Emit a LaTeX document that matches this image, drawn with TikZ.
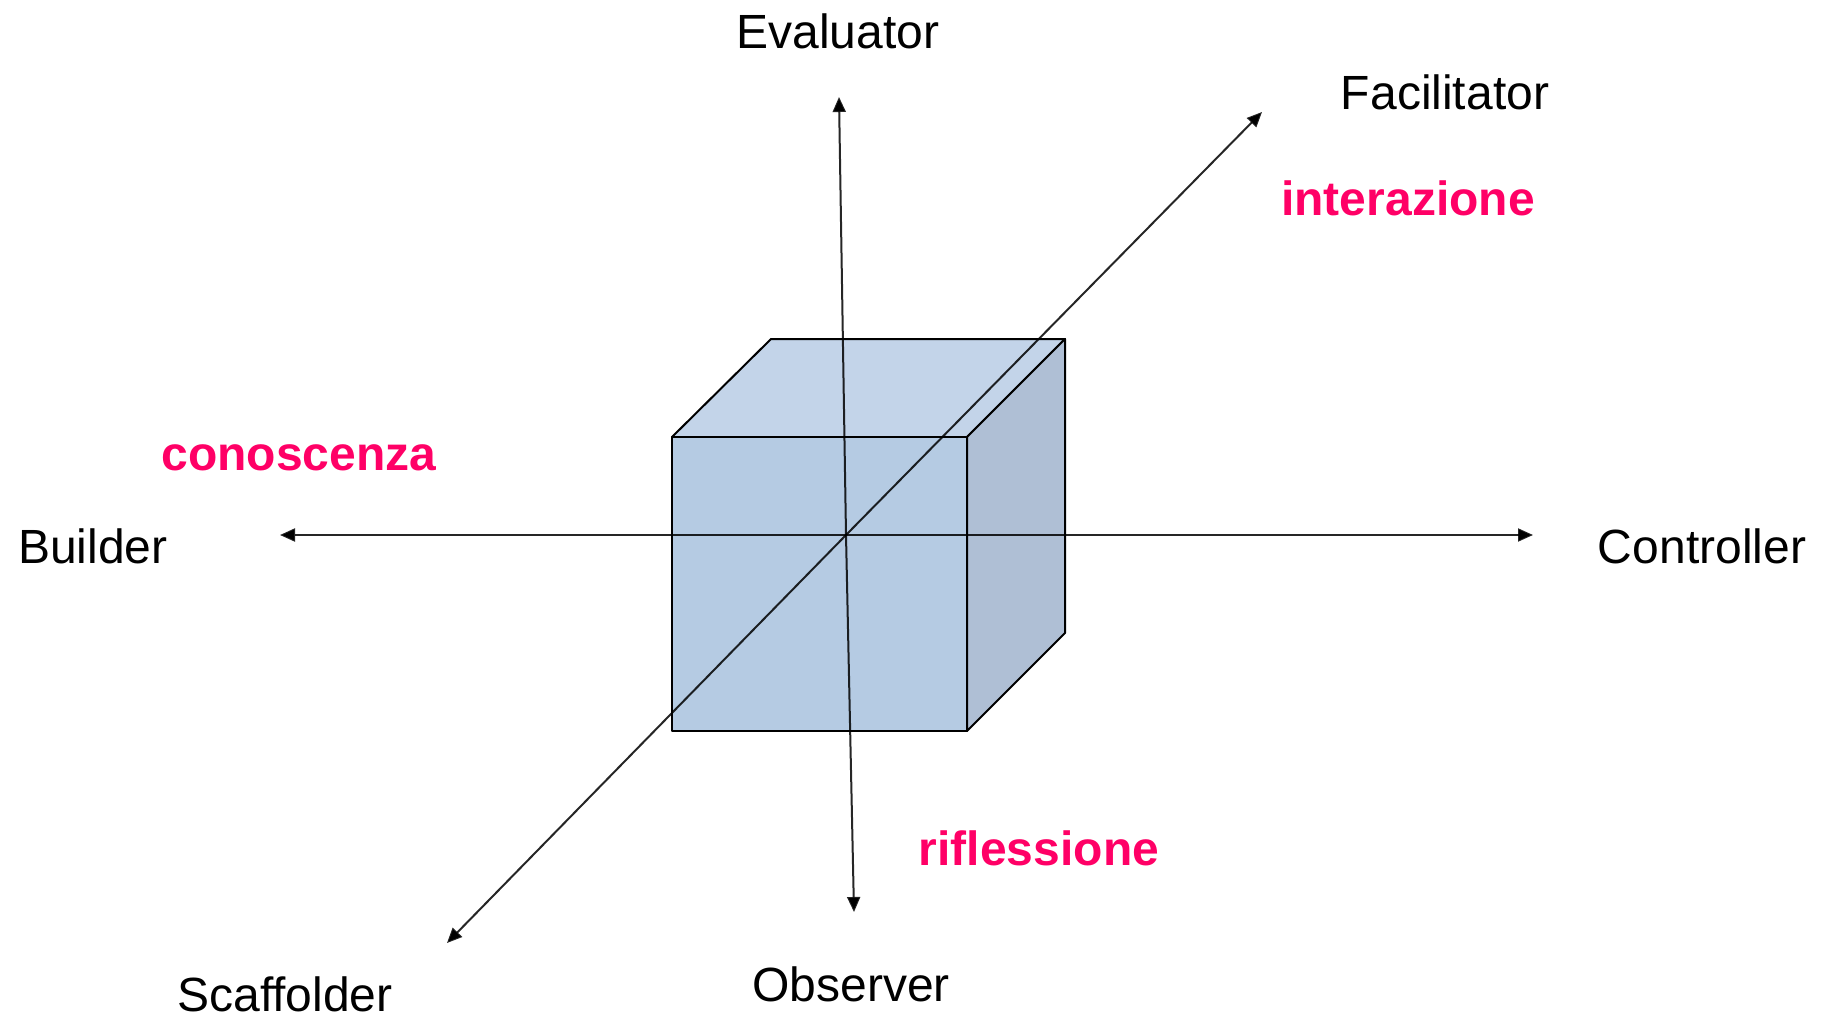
\documentclass[tikz,border=0pt]{standalone}
\usepackage{fontspec}
\setmainfont{Liberation Sans}
\usetikzlibrary{arrows.meta}
\definecolor{keypink}{RGB}{255,0,102}
\definecolor{cubefront}{RGB}{181,203,227}
\definecolor{cubetop}{RGB}{195,212,233}
\definecolor{cubeside}{RGB}{175,191,213}
\begin{document}
\begin{tikzpicture}[
    x=1pt,y=-1pt,
    role/.style={inner sep=0pt,font=\fontsize{48}{57}\selectfont},
    dimension/.style={inner sep=0pt,text=keypink,font=\fontsize{48}{57}\selectfont\bfseries},
    face/.style={draw=black,line width=2pt,line join=round},
    axis/.style={line width=2pt,draw opacity=0.85,-{Triangle[length=15pt,width=13pt]}}
]
\useasboundingbox (0,0) rectangle (1826,1019);

% cube
\draw[face,fill=cubetop] (672,437) -- (771,339) -- (1065,339) -- (967,437) -- cycle;
\draw[face,fill=cubeside] (967,437) -- (1065,339) -- (1065,633) -- (967,731) -- cycle;
\draw[face,fill=cubefront] (672,437) rectangle (967,731);

% axes
\coordinate (o) at (846,535);
\coordinate (up) at (839,97);
\coordinate (down) at (854,912);
\coordinate (left) at (280,535);
\coordinate (right) at (1533,535);
\coordinate (far) at (1262,112);
\coordinate (near) at (447,943);

\draw[axis] (o) -- (up);
\draw[axis] (o) -- (down);
\draw[axis] (o) -- (left);
\draw[axis] (o) -- (right);
\draw[axis] (o) -- (far);
\draw[axis] (o) -- (near);

% roles
\node[role] (evaluator) at (838,31) {Evaluator};
\node[role] (observer) at (851,984) {Observer};
\node[role] (builder) at (93,546) {Builder};
\node[role] (controller) at (1702,546) {Controller};
\node[role] (facilitator) at (1445,92) {Facilitator};
\node[role] (scaffolder) at (285,994) {Scaffolder};

% dimensions
\node[dimension] (interazione) at (1408,198) {interazione};
\node[dimension] (conoscenza) at (299,458) {conoscenza};
\node[dimension] (riflessione) at (1039,848) {riflessione};
\end{tikzpicture}
\end{document}
